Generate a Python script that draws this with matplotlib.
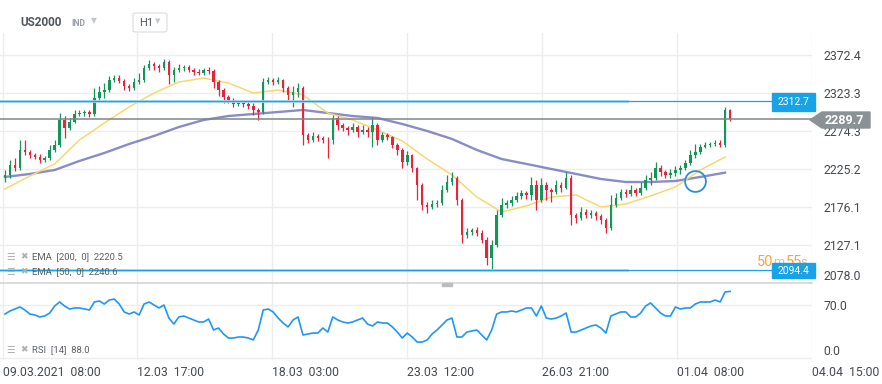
import numpy as np
import matplotlib
matplotlib.use("Agg")
import matplotlib.pyplot as plt
from matplotlib.patches import Rectangle, Polygon, FancyBboxPatch

plt.rcParams['font.family'] = ['Roboto', 'DejaVu Sans']

# ---- data (US2000, H1) ----
first_open = 2215
closes = [2217, 2230, 2227, 2250, 2247, 2243, 2241, 2237, 2239, 2250,
          2256, 2289, 2278, 2286, 2296, 2297, 2299, 2296, 2317, 2325,
          2327, 2340, 2343, 2339, 2332, 2330, 2338, 2340, 2356, 2361,
          2358, 2356, 2363, 2347, 2353, 2356, 2357, 2353, 2350, 2349,
          2353, 2352, 2338, 2327, 2318, 2314, 2309, 2310, 2309, 2307,
          2301, 2299, 2338, 2340, 2338, 2340, 2330, 2321, 2325, 2330,
          2269, 2263, 2268, 2265, 2263, 2262, 2291, 2282, 2278, 2276,
          2279, 2273, 2276, 2273, 2282, 2263, 2269, 2266, 2256, 2250,
          2234, 2243, 2226, 2205, 2179, 2176, 2180, 2181, 2198, 2208,
          2214, 2185, 2140, 2144, 2147, 2143, 2134, 2110, 2127, 2166,
          2179, 2181, 2185, 2190, 2194, 2192, 2205, 2185, 2205, 2198,
          2196, 2205, 2201, 2214, 2166, 2162, 2170, 2166, 2168, 2164,
          2159, 2149, 2179, 2188, 2196, 2193, 2198, 2194, 2201, 2211,
          2214, 2227, 2221, 2218, 2220, 2224, 2227, 2233, 2243, 2247,
          2254, 2256, 2257, 2259, 2256, 2301, 2289.7]
highs = [2224, 2237, 2240, 2262, 2263, 2250, 2246, 2244, 2242, 2256,
         2263, 2297, 2294, 2291, 2301, 2301, 2302, 2302, 2330, 2333,
         2336, 2345, 2347, 2346, 2341, 2335, 2343, 2349, 2360, 2366,
         2363, 2361, 2367, 2366, 2357, 2361, 2360, 2359, 2355, 2354,
         2356, 2357, 2354, 2340, 2330, 2321, 2317, 2313, 2313, 2312,
         2310, 2304, 2343, 2344, 2343, 2344, 2342, 2333, 2333, 2336,
         2332, 2272, 2273, 2271, 2268, 2267, 2295, 2293, 2285, 2281,
         2285, 2282, 2282, 2279, 2292, 2284, 2273, 2272, 2268, 2259,
         2252, 2249, 2245, 2228, 2207, 2182, 2185, 2185, 2204, 2217,
         2221, 2216, 2188, 2149, 2149, 2150, 2146, 2137, 2133, 2172,
         2188, 2185, 2190, 2195, 2198, 2197, 2215, 2211, 2214, 2208,
         2201, 2211, 2208, 2221, 2218, 2169, 2176, 2173, 2172, 2171,
         2167, 2162, 2191, 2194, 2200, 2199, 2204, 2201, 2208, 2217,
         2221, 2234, 2230, 2224, 2225, 2229, 2231, 2237, 2250, 2257,
         2258, 2260, 2260, 2262, 2262, 2305, 2303]
lows = [2208, 2214, 2222, 2224, 2243, 2239, 2238, 2233, 2234, 2237,
        2247, 2253, 2265, 2275, 2284, 2293, 2294, 2292, 2294, 2314,
        2317, 2325, 2337, 2336, 2327, 2326, 2327, 2335, 2337, 2353,
        2353, 2350, 2353, 2335, 2338, 2350, 2352, 2350, 2347, 2346,
        2346, 2348, 2330, 2320, 2310, 2310, 2305, 2306, 2305, 2303,
        2295, 2288, 2296, 2335, 2334, 2335, 2325, 2314, 2305, 2318,
        2256, 2259, 2260, 2261, 2259, 2239, 2258, 2275, 2274, 2269,
        2273, 2266, 2270, 2266, 2253, 2256, 2260, 2262, 2252, 2243,
        2227, 2231, 2221, 2185, 2172, 2169, 2173, 2176, 2179, 2195,
        2205, 2179, 2130, 2136, 2140, 2139, 2130, 2101, 2095, 2125,
        2163, 2175, 2178, 2182, 2187, 2186, 2185, 2172, 2182, 2185,
        2182, 2193, 2196, 2199, 2153, 2156, 2159, 2162, 2162, 2159,
        2154, 2143, 2146, 2176, 2185, 2189, 2190, 2190, 2191, 2198,
        2205, 2211, 2216, 2213, 2214, 2216, 2219, 2224, 2230, 2240,
        2245, 2252, 2254, 2255, 2254, 2254, 2287]
opens = [first_open] + closes[:-1]

# EMA values, sampled every 5 bars
ema_idx = list(range(0, 150, 5))
ema50 = [2199.4, 2216.2, 2231.7, 2262.7, 2284.6, 2305.3, 2323.3, 2337.5, 2342.7, 2336.2,
         2323.3, 2327.2, 2320.8, 2297.5, 2288.5, 2275.6, 2261.4, 2238.1, 2217.5, 2189.1,
         2169.7, 2177.5, 2189.1, 2191.7, 2176.2, 2180.0, 2190.4, 2202.0, 2223.9, 2240.6]
ema200 = [2214.9, 2218.8, 2223.9, 2235.6, 2245.9, 2257.5, 2267.8, 2279.4, 2288.5, 2293.6,
          2296.2, 2298.8, 2301.4, 2297.5, 2293.6, 2291.1, 2283.3, 2274.3, 2264.0, 2249.8,
          2238.1, 2231.7, 2225.2, 2218.8, 2212.3, 2208.4, 2208.4, 2209.7, 2214.9, 2220.5]

rsi = [58.1, 62.1, 64.7, 67.4, 63.4, 58.1, 56.8, 54.2, 55.5, 59.4,
       68.7, 74.0, 68.7, 64.7, 66.1, 66.1, 64.7, 63.4, 74.0, 75.3,
       71.3, 76.6, 77.9, 71.3, 60.8, 58.1, 60.8, 56.8, 71.3, 74.0,
       70.0, 66.1, 70.0, 52.8, 44.9, 54.2, 55.5, 52.8, 50.2, 47.6,
       47.6, 51.5, 37.0, 39.6, 31.7, 26.4, 26.4, 27.7, 27.7, 26.4,
       23.8, 37.0, 63.4, 64.7, 60.8, 52.8, 46.2, 41.0, 50.2, 54.2,
       30.4, 31.7, 33.0, 33.0, 39.6, 34.3, 54.2, 50.2, 47.6, 46.2,
       47.6, 50.2, 52.8, 44.9, 42.3, 47.6, 46.2, 46.2, 41.0, 34.3,
       26.4, 33.0, 27.7, 21.1, 21.1, 23.8, 31.7, 37.0, 43.6, 50.2,
       52.8, 27.7, 27.7, 34.3, 35.7, 37.0, 30.4, 23.8, 37.0, 58.1,
       60.8, 60.8, 62.1, 60.8, 63.4, 66.1, 66.1, 55.5, 68.7, 52.8,
       51.5, 52.8, 55.5, 59.4, 34.3, 34.3, 37.0, 39.6, 42.3, 43.6,
       39.6, 33.0, 55.5, 58.1, 60.8, 60.8, 54.2, 54.2, 59.4, 68.7,
       72.7, 66.1, 59.4, 55.5, 55.5, 67.4, 64.7, 66.1, 66.1, 71.3,
       74.0, 74.0, 74.0, 76.6, 74.0, 87.2, 88.0]

price_ticks = [2078.0, 2127.1, 2176.1, 2225.2, 2274.3, 2323.3, 2372.4]
rsi_ticks = [0.0, 70.0]
time_labels = ['09.03.2021  08:00', '12.03  17:00', '18.03  03:00', '23.03  12:00',
               '26.03  21:00', '01.04  08:00', '04.04  15:00']
level_hi, level_last, level_lo = 2312.7, 2289.7, 2094.4

# ---- figure ----
W, H = 882, 384
fig = plt.figure(figsize=(W / 100, H / 100), dpi=100)
fig.patch.set_facecolor('white')

def fx(px):
    return px / W

def fy(py):
    return 1 - py / H

ax = fig.add_axes([0, fy(283), fx(812), (283 - 33) / H])
ax2 = fig.add_axes([0, fy(360), fx(812), (360 - 283) / H], sharex=ax)

n = len(closes)
x = np.arange(n)
tick_pos = [-0.4, 26.58, 53.77, 80.95, 108.14, 135.3, 162.5]
grid_c = '#ededed'
txt_c = '#454a4f'

# candles
up_c, dn_c = '#16955a', '#e8233c'
o = np.array(opens, float)
c = np.array(closes, float)
cols = [up_c if cc >= oo else dn_c for oo, cc in zip(o, c)]
ax.vlines(x, lows, highs, colors=cols, lw=0.9, zorder=3)
body = np.maximum(np.abs(c - o), 0.8)
ax.bar(x, body, bottom=np.minimum(o, c), width=0.5, color=cols, zorder=3, linewidth=0)

# EMAs
ax.plot(ema_idx, ema200, color='#6266b5', lw=1.7, alpha=0.75, zorder=2)
ax.plot(ema_idx, ema50, color='#f7d86f', lw=1.1, zorder=2)

# levels
ax.plot([-1.007, 125.3], [level_hi, level_hi], color='#a6dcf5', lw=2.0, zorder=4)
ax.axhline(level_hi, color='#1aa2e6', lw=0.9, zorder=4)
ax.plot([-1.007, 125.3], [level_lo, level_lo], color='#a6dcf5', lw=2.0, zorder=4)
ax.axhline(level_lo, color='#1aa2e6', lw=0.9, zorder=4)
ax.axhline(level_last, color='#7e8588', lw=1.1, zorder=4)

# crossover marker
ax.plot([138.9], [2209.7], marker='o', ms=15, mfc='none', mec='#2b8ed6', mew=1.3, zorder=5)

ax.set_xlim(-1.007, 162.5)
ax.set_ylim(2078.05, 2400.8)
ax.set_yticks(price_ticks)
ax.set_yticklabels([f'{v:.1f}' for v in price_ticks])
ax.yaxis.tick_right()
ax.tick_params(axis='y', length=0, pad=8, labelsize=8.8, labelcolor=txt_c)
ax.yaxis.get_ticklabels()[0].set_va('bottom')
ax.set_xticks(tick_pos)
ax.tick_params(axis='x', length=0, labelbottom=False)
ax.grid(True, color=grid_c, lw=1)
ax.set_axisbelow(True)
for s in ax.spines.values():
    s.set_visible(False)

# RSI panel
ax2.plot(x, rsi, color='#2196f3', lw=1.2)
ax2.set_ylim(-2.64, 99.07)
ax2.set_yticks(rsi_ticks)
ax2.set_yticklabels([f'{v:.1f}' for v in rsi_ticks])
ax2.yaxis.tick_right()
ax2.tick_params(axis='y', length=0, pad=8, labelsize=8.8, labelcolor=txt_c)
ax2.yaxis.get_ticklabels()[0].set_va('bottom')
ax2.set_xticks(tick_pos)
ax2.set_xticklabels(time_labels)
ax2.tick_params(axis='x', length=0, pad=4, labelsize=8.8, labelcolor=txt_c)
for lbl in ax2.get_xticklabels():
    lbl.set_ha('left')
ax2.grid(True, color=grid_c, lw=1)
ax2.set_axisbelow(True)
for k, s in ax2.spines.items():
    s.set_visible(k == 'top')
ax2.spines['top'].set_color('#d6d6d6')
ax2.spines['top'].set_linewidth(1.2)
fig.add_artist(Rectangle((fx(442), fy(286)), fx(10), 3 / H, color='#bdbdbd', zorder=6))

# header
fig.text(fx(20), fy(23), 'US2000', fontsize=8.5, fontweight='bold', color='#50565c', va='center')
fig.text(fx(71), fy(23), 'IND', fontsize=6.2, fontweight='bold', color='#9aa0a6', va='center')
fig.text(fx(91), fy(21), '▼', fontsize=5.5, color='#c3c7cb', va='center')
fig.add_artist(FancyBboxPatch((fx(133), fy(32)), fx(34), 19 / H,
                              boxstyle='round,pad=0,rounding_size=0.004',
                              fc='white', ec='#dcdcdc', lw=0.8, transform=fig.transFigure))
fig.text(fx(139), fy(23), 'H1', fontsize=8, color='#50565c', va='center', zorder=7)
fig.text(fx(155), fy(22), '▼', fontsize=5, color='#c3c7cb', va='center', zorder=7)

# indicator legends
legend_rows = [(257, 'EMA  [200,  0]  2220.5'), (272, 'EMA  [50,  0]  2240.6'), (350, 'RSI  [14]  88.0')]
for py, s in legend_rows:
    fig.text(fx(6), fy(py), '☰', fontsize=7, color='#b0b0b0', va='center')
    fig.text(fx(20), fy(py), '✖', fontsize=6.5, color='#b0b0b0', va='center')
    fig.text(fx(32), fy(py), s, fontsize=6.8, color='#5a5f64', va='center')

# countdown (partly hidden behind the level label, as on the terminal)
orange = '#f8a440'
fig.text(fx(757), fy(262), '50', fontsize=10.5, color=orange, va='center')
fig.text(fx(773), fy(263), 'm', fontsize=9, color='#c5c5c5', va='center')
fig.text(fx(786), fy(262), '55', fontsize=10.5, color=orange, va='center')
fig.text(fx(800), fy(263), 's', fontsize=9, color='#c5c5c5', va='center')

# price label boxes
blue = '#18a3e6'
fig.add_artist(Rectangle((fx(772), fy(111)), fx(43), 18 / H, color=blue, zorder=6))
fig.text(fx(793.5), fy(102), f'{level_hi:.1f}', fontsize=7.5, color='white', ha='center', va='center', zorder=7)
fig.add_artist(Rectangle((fx(772), fy(278)), fx(43), 15 / H, color=blue, zorder=6))
fig.text(fx(793.5), fy(270.5), f'{level_lo:.1f}', fontsize=7.5, color='white', ha='center', va='center', zorder=7)
arrow = [(fx(810), fy(120)), (fx(822), fy(112)), (fx(870), fy(112)), (fx(870), fy(128)), (fx(822), fy(128))]
fig.add_artist(Polygon(arrow, closed=True, color='#8a9295', zorder=6, transform=fig.transFigure))
fig.text(fx(844), fy(120), f'{level_last:.1f}', fontsize=9, fontweight='bold', color='white',
         ha='center', va='center', zorder=7)

fig.savefig('out.png', dpi=100)
